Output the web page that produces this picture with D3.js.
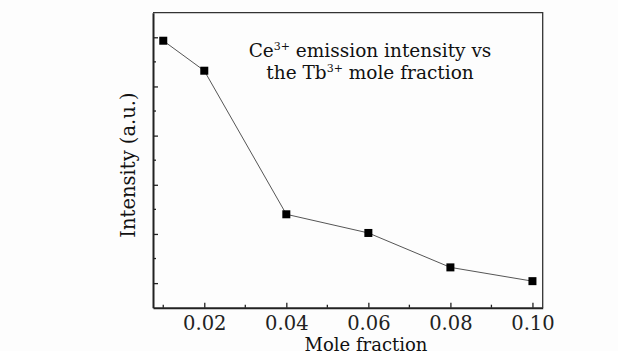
<!DOCTYPE html>
<html><head><meta charset="utf-8">
<script src="https://cdn.jsdelivr.net/npm/d3@7"></script>
<style>body{margin:0;background:#fdfdfd;} svg{display:block;}</style>
</head><body>
<svg id="chart" width="618" height="351"></svg>
<script>
const moleFraction = [0.01, 0.02, 0.04, 0.06, 0.08, 0.10];
const intensity = [4.93, 4.32, 1.40, 1.02, 0.32, 0.04];
const xTickValues = [0.02, 0.04, 0.06, 0.08, 0.10];
const xMinorTicks = [0.01, 0.03, 0.05, 0.07, 0.09];
const yMajorTicks = [0, 1, 2, 3, 4, 5];
const yMinorTicks = [0.5, 1.5, 2.5, 3.5, 4.5];
const xLabel = "Mole fraction";
const yLabel = "Intensity (a.u.)";

const svg = d3.select("#chart");
const L = 153, R = 542.7, T = 12.7, B = 307.7;
const x = d3.scaleLinear().domain([0.0075, 0.1025]).range([L, R]);
const y = d3.scaleLinear().domain([-0.5, 5.5]).range([B, T]);
const serif = "'DejaVu Serif', 'Liberation Serif', serif";

// frame top/right
svg.append("path").attr("d", `M${L},${T}H${R}V${B}`).attr("fill","none").attr("stroke","#333").attr("stroke-width",1.3);

// x axis
const xa = svg.append("g").attr("transform", `translate(0,${B})`)
  .call(d3.axisBottom(x).tickValues(xTickValues).tickFormat(d3.format(".2f")).tickSizeInner(-5).tickSizeOuter(0).tickPadding(8));
xa.select(".domain").attr("stroke","#222").attr("stroke-width",2);
xa.selectAll(".tick line").attr("stroke","#222").attr("stroke-width",1.3);
xa.selectAll(".tick text").attr("font-family", serif).attr("font-size", 19.5).attr("fill","#222");
svg.append("g").attr("transform", `translate(0,${B})`).selectAll("line").data(xMinorTicks).join("line")
  .attr("x1", d=>x(d)).attr("x2", d=>x(d)).attr("y1",0).attr("y2",-3).attr("stroke","#222").attr("stroke-width",1.3);

// y axis
const ya = svg.append("g").attr("transform", `translate(${L},0)`)
  .call(d3.axisLeft(y).tickValues(yMajorTicks).tickFormat("").tickSizeInner(-5).tickSizeOuter(0));
ya.select(".domain").attr("stroke","#222").attr("stroke-width",2);
ya.selectAll(".tick line").attr("stroke","#222").attr("stroke-width",1.3);
svg.append("g").attr("transform", `translate(${L},0)`).selectAll("line").data(yMinorTicks).join("line")
  .attr("y1", d=>y(d)).attr("y2", d=>y(d)).attr("x1",0).attr("x2",3).attr("stroke","#222").attr("stroke-width",1.3);

// line + markers
const pts = moleFraction.map((m,i)=>[m, intensity[i]]);
svg.append("path").datum(pts).attr("fill","none").attr("stroke","#555").attr("stroke-width",1)
  .attr("d", d3.line().x(d=>x(d[0])).y(d=>y(d[1])));
svg.append("g").selectAll("rect").data(pts).join("rect")
  .attr("x", d=>x(d[0])-4).attr("y", d=>y(d[1])-4).attr("width",8).attr("height",8).attr("fill","#000");

// annotation
const ann = svg.append("text").attr("font-family", serif).attr("font-size", 18.5).attr("fill","#111").attr("text-anchor","middle");
const l1 = ann.append("tspan").attr("x", 370).attr("y", 57);
l1.append("tspan").text("Ce");
l1.append("tspan").attr("font-size", 11).attr("dy", -7).text("3+");
l1.append("tspan").attr("dy", 7).text(" emission intensity vs");
const l2 = ann.append("tspan").attr("x", 370).attr("y", 79);
l2.append("tspan").text("the Tb");
l2.append("tspan").attr("font-size", 11).attr("dy", -7).text("3+");
l2.append("tspan").attr("dy", 7).text(" mole fraction");

// axis titles
svg.append("text").attr("x", 366).attr("y", 351).attr("text-anchor","middle")
  .attr("font-family", serif).attr("font-size", 18).attr("fill","#111").text(xLabel);
svg.append("text").attr("transform", `translate(135,165) rotate(-90)`).attr("text-anchor","middle")
  .attr("font-family", serif).attr("font-size", 19.5).attr("fill","#111").text(yLabel);
</script>
</body></html>
